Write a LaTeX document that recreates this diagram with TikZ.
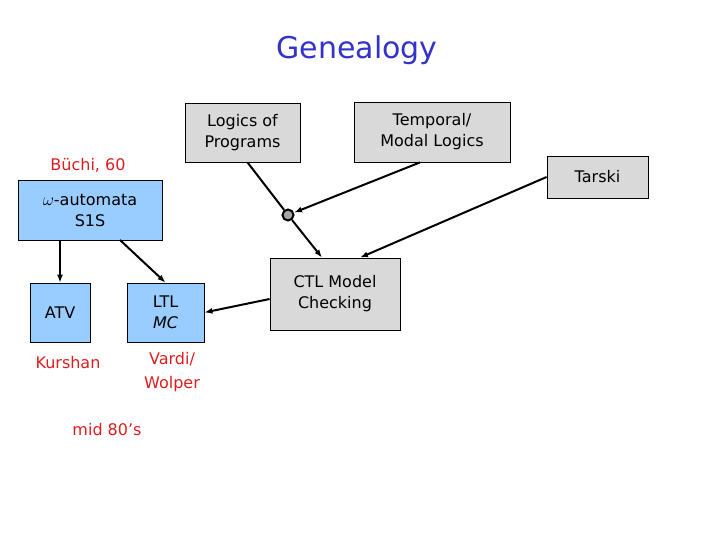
\documentclass[tikz,border=0pt]{standalone}
\usepackage{fontspec}
\setmainfont{DejaVu Sans}
\usetikzlibrary{arrows.meta}
\definecolor{bluebox}{RGB}{153,204,255}
\definecolor{graybox}{RGB}{217,217,217}
\definecolor{redtxt}{RGB}{220,30,30}
\definecolor{titleblue}{RGB}{51,51,204}
\begin{document}
\begin{tikzpicture}[x=1pt,y=-1pt,
  box/.style={draw=black,line width=0.8pt,inner sep=0pt,align=center,font=\fontsize{16}{21}\selectfont},
  gbox/.style={box,fill=graybox},
  bbox/.style={box,fill=bluebox},
  red/.style={text=redtxt,align=center,font=\fontsize{16}{24}\selectfont},
  arr/.style={-{Latex[length=8pt,width=6pt]},line width=2pt}]
\useasboundingbox (0,0) rectangle (720,540);
\node[text=titleblue,font=\fontsize{30}{36}\selectfont] (title) at (357,50) {Genealogy};
\node[gbox,minimum width=115,minimum height=59] (lop) at (242.5,132.5) {Logics of\\Programs};
\node[gbox,minimum width=156,minimum height=60] (tml) at (432,132) {Temporal/\\Modal Logics};
\node[gbox,minimum width=101,minimum height=42] (tar) at (597.5,177) {Tarski};
\node[bbox,minimum width=144,minimum height=60] (omega) at (90,210) {$\omega$-automata\\S1S};
\node[red] (buchi) at (88,165) {Büchi, 60};
\node[bbox,minimum width=60,minimum height=59] (atv) at (60,312.5) {ATV};
\node[bbox,minimum width=77,minimum height=59] (ltl) at (165.5,312.5) {LTL\\\textit{MC}};
\node[gbox,minimum width=130,minimum height=72] (ctl) at (335,294) {CTL Model\\Checking};
\node[draw=black,line width=2pt,fill=gray!70,circle,minimum size=11pt,inner sep=0pt] (c) at (288,215) {};
\node[red] (kur) at (68,363) {Kurshan};
\node[red] (vw) at (172,372) {Vardi/\\Wolper};
\node[red] (mid) at (107,430) {mid 80's};
\draw[arr] (omega.south -| atv) -- (atv.north);
\draw[arr] (120,240) -- (ltl.north);
\draw[line width=2pt] (lop.south) ++(5,0) -- (c);
\draw[arr] (c) -- (ctl.north -| 322,0);
\draw[arr] (tml.south) ++(-12,0) -- (c);
\draw[arr] (tar.west) -- (ctl.north -| 360,0);
\draw[arr] (ctl.west) ++(0,5) -- (ltl.east);
\end{tikzpicture}
\end{document}
